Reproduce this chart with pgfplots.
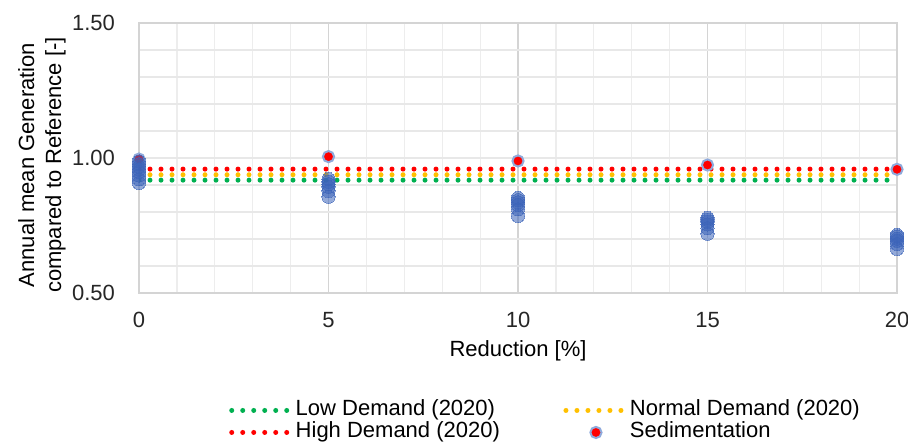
\documentclass[border=0pt]{standalone}
\usepackage{pgfplots}
\pgfplotsset{compat=1.18}
\usepackage{fontspec}
\setmainfont{Liberation Sans}
\definecolor{lowc}{RGB}{0,176,80}
\definecolor{normc}{RGB}{255,192,0}
\definecolor{highc}{RGB}{255,0,0}
\definecolor{bluec}{RGB}{60,100,185}
\definecolor{haloc}{RGB}{143,170,220}
\newcommand{\ff}{\fontsize{11}{13.5}\selectfont}
\pgfplotsset{
  lineimg/.style={legend image code/.code={\draw[##1] (0pt,0pt) -- (30pt,0pt);}},
  sedimg/.style={legend image code/.code={\draw[##1] plot coordinates {(15pt,0pt)};}},
}
\begin{document}
\begin{tikzpicture}
\begin{axis}[
  scale only axis, width=379pt, height=135pt,
  xmin=0, xmax=20, ymin=0.5, ymax=1.5,
  xtick={0,5,10,15,20}, minor x tick num=4,
  ytick={0.5,0.6,0.7,0.8,0.9,1.0,1.1,1.2,1.3,1.4,1.5},
  yticklabels={0.50,,,,,1.00,,,,,1.50},
  grid=both,
  major grid style={draw=black!17, line width=0.6pt},
  minor grid style={draw=black!7, line width=0.6pt},
  y grid style={draw=black!9, line width=0.6pt},
  axis line style={draw=black!17, line width=0.6pt},
  tick style={draw=none},
  /pgf/number format/assume math mode=true,
  ticklabel style={font=\ff, text=black!85},
  xticklabel style={yshift=-6pt},
  yticklabel style={xshift=-8.5pt},
  xlabel={Reduction [\%]},
  xlabel style={font=\ff, at={(axis description cs:0.5,0)}, anchor=center, yshift=-29pt},
  ylabel={Annual mean Generation\\compared to Reference [-]},
  ylabel style={font=\ff, align=center, at={(axis description cs:-0.128,0.474)}, anchor=center, rotate=0},
  legend columns=2,
  legend cell align=left,
  legend style={draw=none, fill=none, font=\ff, at={(0.536,-0.378)}, anchor=north,
    nodes={inner sep=0.75pt, text height=7.5pt, text depth=2pt},
    /tikz/every even column/.append style={column sep=31pt}},
  dotline/.style={line width=2.5pt, line cap=round, dash pattern=on 0pt off 5.5pt},
  lineimg,
]
\coordinate (sw) at (rel axis cs:0,0);
\coordinate (ne) at (rel axis cs:1,1);
\addplot[dotline, lowc] coordinates {(0,0.918) (20,0.918)};
\addlegendentry{Low Demand (2020)}
\addplot[dotline, normc] coordinates {(0,0.938) (20,0.938)};
\addlegendentry{Normal Demand (2020)}
\addplot[dotline, highc] coordinates {(0,0.959) (20,0.959)};
\addlegendentry{High Demand (2020)}
\addplot[only marks, mark=*, mark size=2.8pt, mark options={fill=highc, draw=haloc, line width=1pt}, sedimg]
  coordinates {(0,0.996) (5,1.005) (10,0.989) (15,0.974) (20,0.958)};
\addlegendentry{Sedimentation}
\addplot[bluec, only marks, mark=*, mark size=3.3pt, mark options={fill=bluec, draw=bluec, line width=0pt, opacity=0.55}, forget plot]
  coordinates {
  (0,0.987) (0,0.977) (0,0.967) (0,0.958) (0,0.948) (0,0.935) (0,0.921) (0,0.907)
  (5,0.922) (5,0.912) (5,0.903) (5,0.893) (5,0.878) (5,0.856)
  (10,0.852) (10,0.844) (10,0.836) (10,0.826) (10,0.810) (10,0.785)
  (15,0.778) (15,0.771) (15,0.763) (15,0.754) (15,0.740) (15,0.719)
  (20,0.715) (20,0.709) (20,0.701) (20,0.693) (20,0.681) (20,0.663)
  };
\end{axis}
\path (sw) ++(-69.5pt,-74.5pt) coordinate (bbA);
\path (ne) ++(5.5pt,11.5pt) coordinate (bbB);
\pgfresetboundingbox
\path (bbA) rectangle (bbB);
\end{tikzpicture}
\end{document}
